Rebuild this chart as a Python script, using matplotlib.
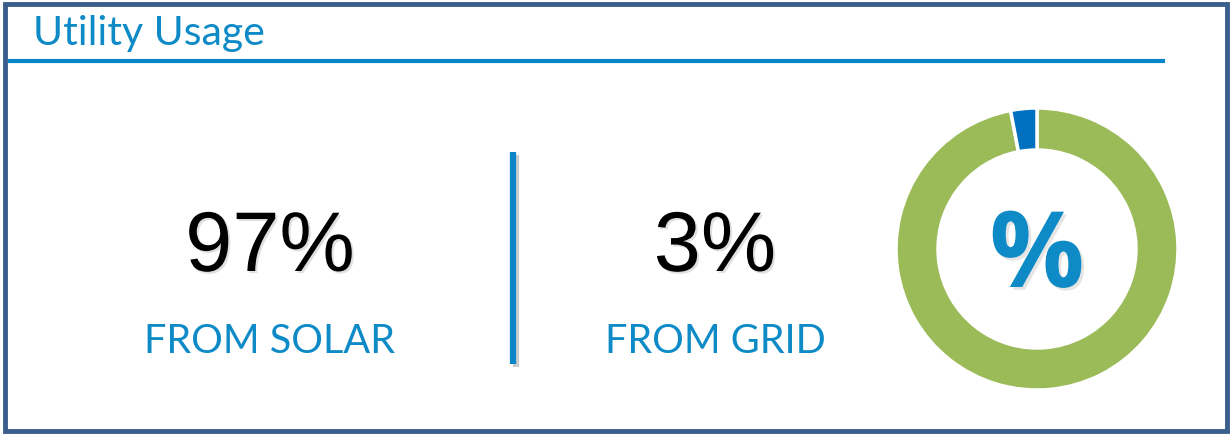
import matplotlib.pyplot as plt
import matplotlib.patheffects as pe
from matplotlib.patches import Rectangle

# datos
fuentes = ["FROM SOLAR", "FROM GRID"]
porcentajes = [97, 3]
colores = ["#9BBB59", "#0070C0"]

azul = "#0E8AC6"
W, H = 1230, 435

fig = plt.figure(figsize=(W / 100, H / 100), dpi=100)
ax = fig.add_axes([0, 0, 1, 1])
ax.set_xlim(0, W)
ax.set_ylim(H, 0)  # coordenadas en pixeles, y hacia abajo
ax.axis("off")

# borde exterior
ax.add_patch(Rectangle((5, 5), W - 8, H - 8, fill=False, edgecolor="#3B5E8C", linewidth=3.5))

# titulo + linea
ax.text(33, 45, "Utility Usage", fontsize=29.5, color=azul, family="Lato", va="baseline")
ax.plot([8, 1165], [62, 62], color="#0A86C8", linewidth=3, solid_capstyle="butt")

# linea vertical separadora
ax.plot([513, 513], [153, 365], color="#0A86C8", linewidth=4.5, solid_capstyle="butt",
        path_effects=[pe.SimpleLineShadow(offset=(2, -2), alpha=0.2), pe.Normal()])

sombra = [pe.SimplePatchShadow(offset=(1.5, -1.5), shadow_rgbFace="#999999", alpha=0.3), pe.Normal()]
for xc, nombre, val in zip([270, 715], fuentes, porcentajes):
    ax.text(xc, 272, f"{val}%", fontsize=61, family="Liberation Sans", ha="center",
            va="baseline", color="black", path_effects=sombra)
    ax.text(xc, 353, nombre, fontsize=28.5, family="Lato", ha="center", va="baseline", color=azul)

# dona
cx, cy, r = 1037, 250, 141
axp = fig.add_axes([(cx - 150) / W, (H - cy - 150) / H, 300 / W, 300 / H])
axp.pie(porcentajes, colors=colores, startangle=90, counterclock=False, radius=r / 150,
        wedgeprops=dict(width=42 / 150, edgecolor="white", linewidth=2.5))
axp.set_xlim(-1, 1)
axp.set_ylim(-1, 1)
axp.text(0, -10 / 150, "%", fontsize=76, fontweight="bold", family="Open Sans", color=azul,
         ha="center", va="center",
         path_effects=[pe.SimplePatchShadow(offset=(2, -2), shadow_rgbFace="#999999", alpha=0.25), pe.Normal()])

fig.savefig("out.png", dpi=100)
